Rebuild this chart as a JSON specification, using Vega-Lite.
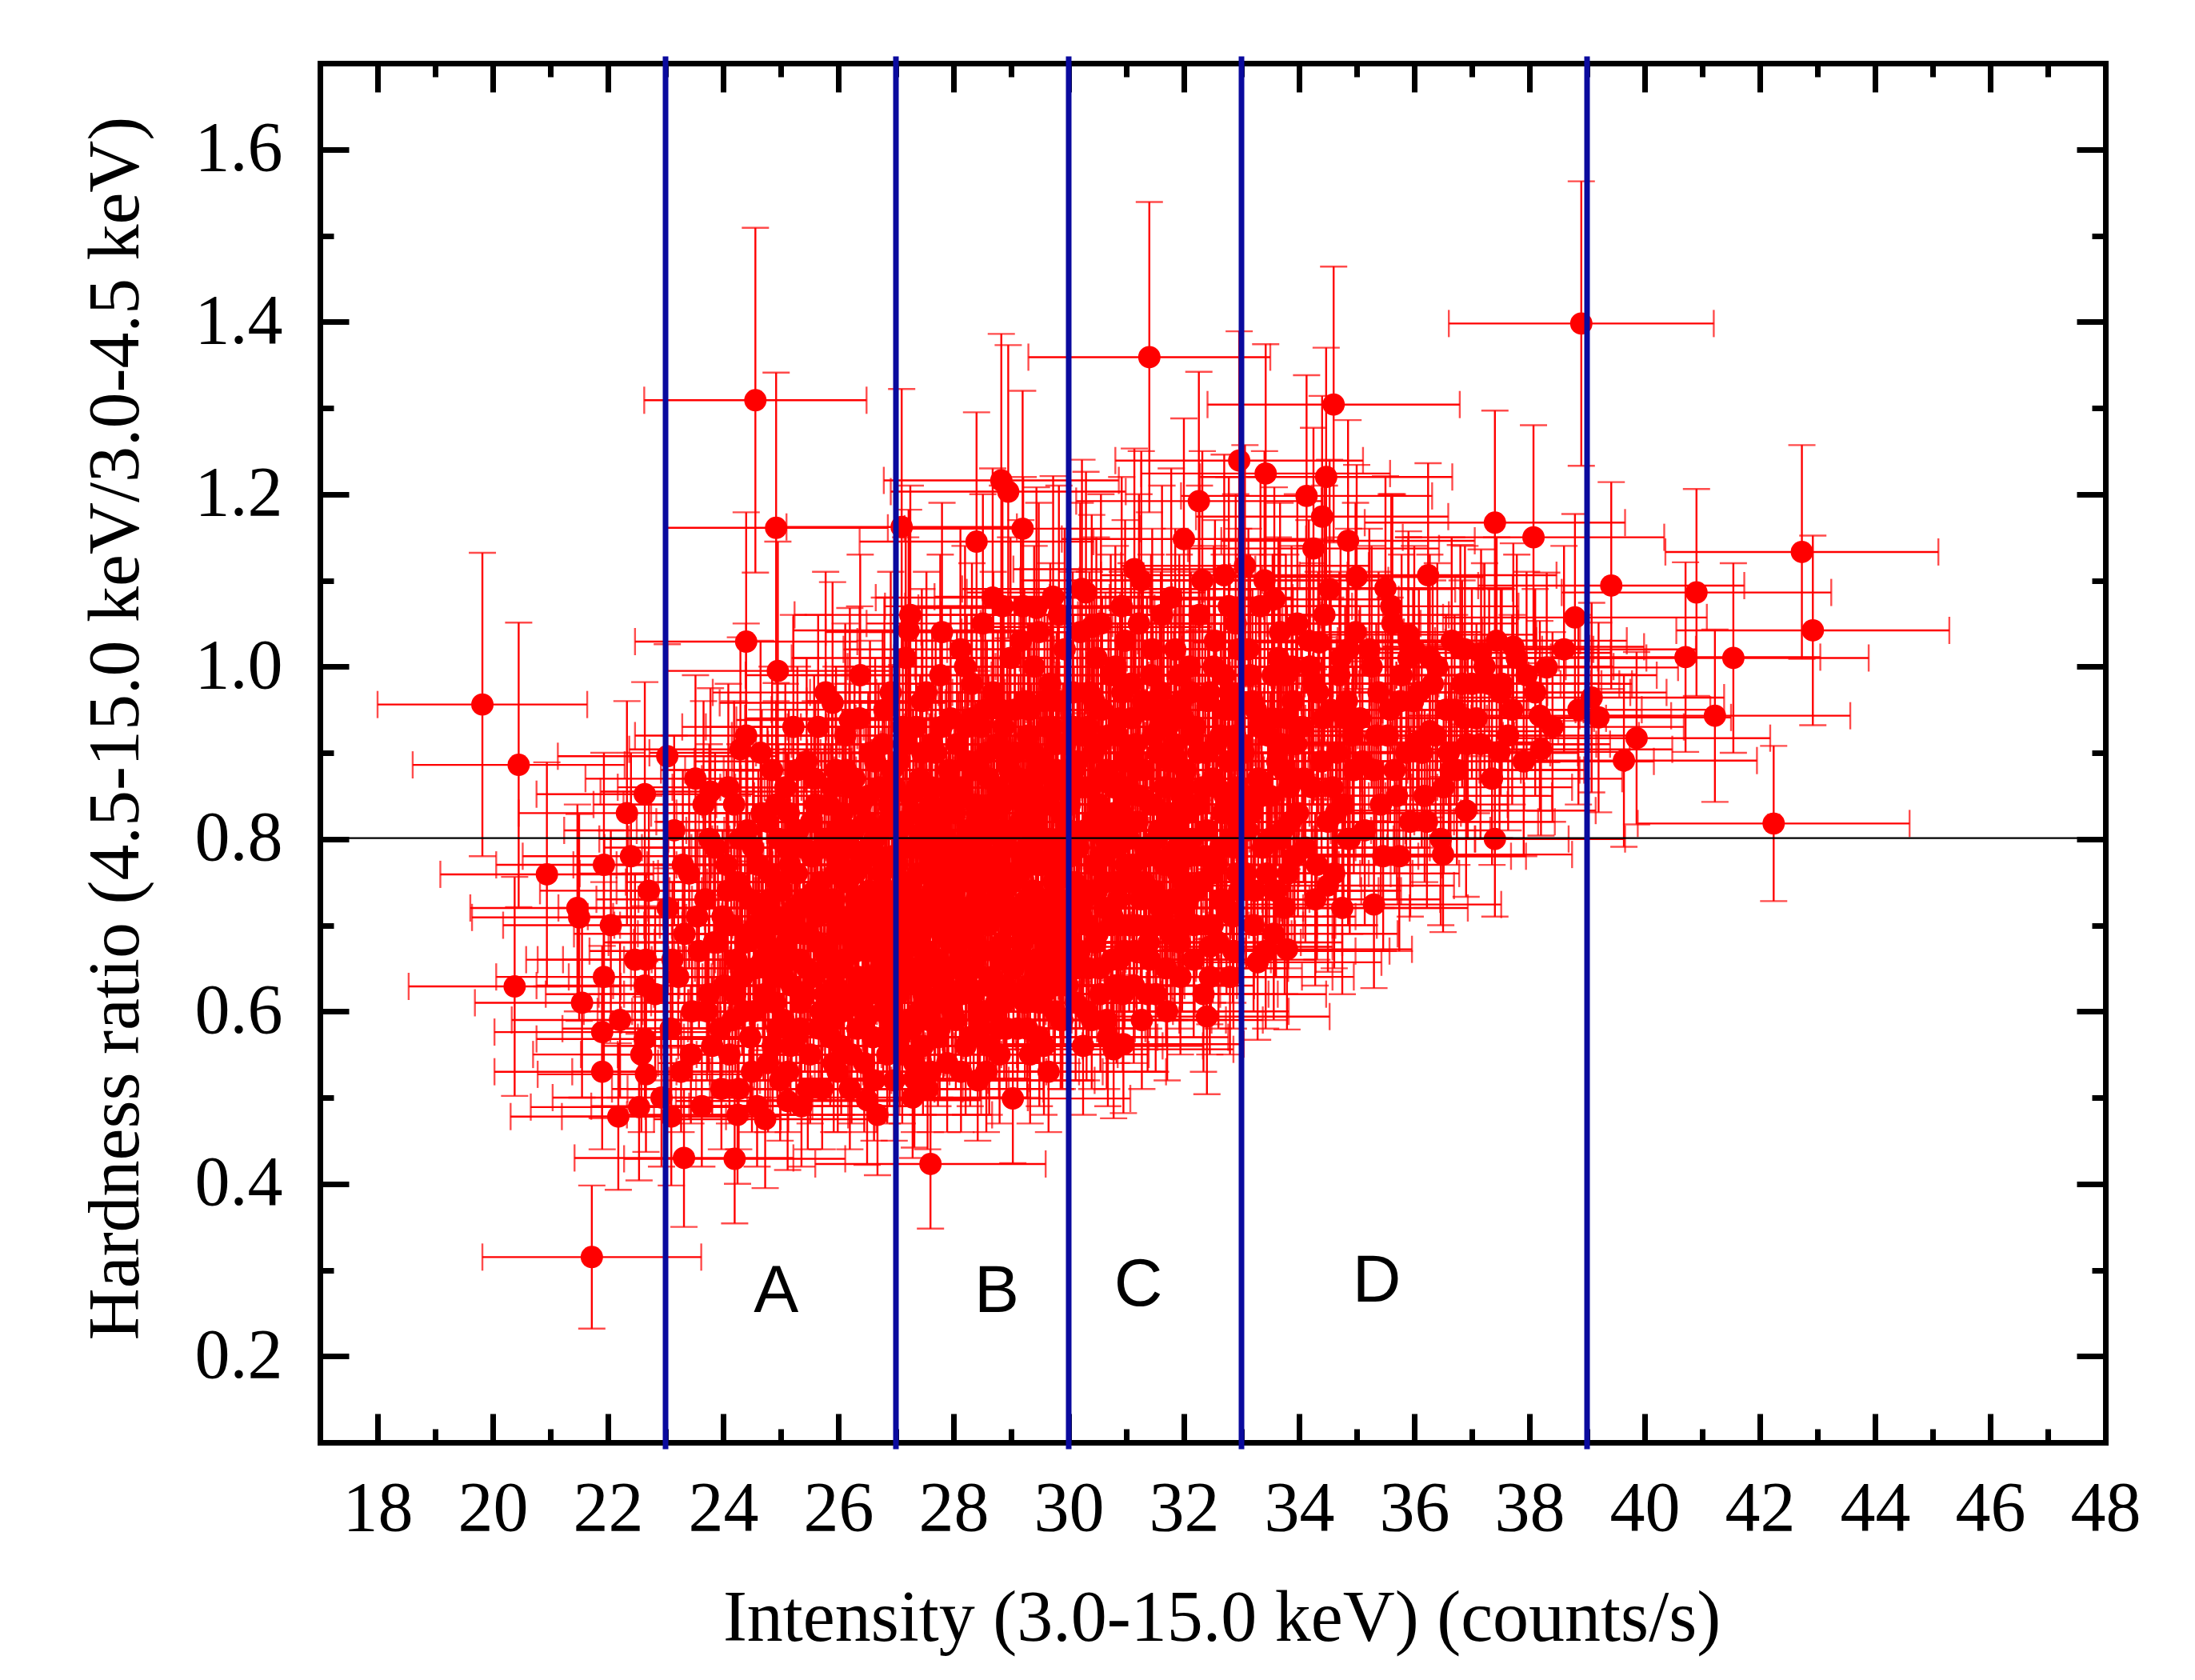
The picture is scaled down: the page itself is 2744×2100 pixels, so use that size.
{
"$schema": "https://vega.github.io/schema/vega-lite/v6.json",
"width": 2232, "height": 1724,
"autosize": {"type": "none"},
"padding": {"left": 400, "top": 79, "right": 112, "bottom": 297},
"background": "white",
"config": {
  "view": {"stroke": null},
  "font": "Liberation Serif",
  "axis": {"grid": false, "labelFont": "Liberation Serif", "titleFont": "Liberation Serif", "labelFontSize": 88, "titleFontSize": 90, "titleFontWeight": "normal", "labelColor": "black", "titleColor": "black", "domainColor": "black", "tickColor": "black", "domainWidth": 7, "tickWidth": 7, "domainCap": "square", "labelFlush": false, "labelOverlap": false}
},
"datasets": {
"pts": [
{"x":22.05,"y":0.70,"ex":1.87,"ey":0.11},{"x":22.21,"y":0.59,"ex":1.88,"ey":0.09},{"x":22.33,"y":0.83,"ex":1.88,"ey":0.13},{"x":22.47,"y":0.66,"ex":1.89,"ey":0.10},{"x":22.58,"y":0.55,"ex":1.88,"ey":0.09},{"x":22.71,"y":0.74,"ex":1.89,"ey":0.11},{"x":22.82,"y":0.62,"ex":1.90,"ey":0.10},{"x":22.93,"y":0.50,"ex":1.89,"ey":0.08},
{"x":23.04,"y":0.72,"ex":1.90,"ey":0.10},{"x":23.09,"y":0.58,"ex":1.88,"ey":0.08},{"x":23.15,"y":0.81,"ex":1.91,"ey":0.11},{"x":23.22,"y":0.64,"ex":1.90,"ey":0.09},{"x":23.27,"y":0.53,"ex":1.89,"ey":0.07},{"x":23.33,"y":0.69,"ex":1.92,"ey":0.10},{"x":23.41,"y":0.76,"ex":1.90,"ey":0.11},{"x":23.46,"y":0.60,"ex":1.88,"ey":0.08},{"x":23.52,"y":0.87,"ex":1.91,"ey":0.12},{"x":23.58,"y":0.67,"ex":1.90,"ey":0.09},{"x":23.63,"y":0.49,"ex":1.92,"ey":0.07},{"x":23.69,"y":0.73,"ex":1.89,"ey":0.10},{"x":23.75,"y":0.62,"ex":1.91,"ey":0.09},{"x":23.81,"y":0.56,"ex":1.90,"ey":0.08},{"x":23.86,"y":0.79,"ex":1.92,"ey":0.11},{"x":23.91,"y":0.68,"ex":1.90,"ey":0.10},{"x":23.95,"y":0.58,"ex":1.91,"ey":0.08},{"x":23.99,"y":0.71,"ex":1.90,"ey":0.10},
{"x":24.02,"y":0.63,"ex":1.93,"ey":0.09},{"x":24.06,"y":0.77,"ex":1.91,"ey":0.11},{"x":24.11,"y":0.55,"ex":1.94,"ey":0.08},{"x":24.14,"y":0.70,"ex":1.93,"ey":0.10},{"x":24.19,"y":0.84,"ex":1.92,"ey":0.12},{"x":24.23,"y":0.66,"ex":1.95,"ey":0.09},{"x":24.27,"y":0.51,"ex":1.93,"ey":0.07},{"x":24.31,"y":0.74,"ex":1.91,"ey":0.10},{"x":24.36,"y":0.60,"ex":1.94,"ey":0.08},{"x":24.40,"y":0.92,"ex":1.93,"ey":0.13},{"x":24.44,"y":0.69,"ex":1.92,"ey":0.10},{"x":24.47,"y":0.57,"ex":1.95,"ey":0.08},{"x":24.52,"y":0.79,"ex":1.93,"ey":0.11},{"x":24.55,"y":0.65,"ex":1.91,"ey":0.09},{"x":24.59,"y":0.49,"ex":1.94,"ey":0.07},{"x":24.63,"y":0.72,"ex":1.93,"ey":0.10},{"x":24.67,"y":0.83,"ex":1.92,"ey":0.12},{"x":24.70,"y":0.61,"ex":1.95,"ey":0.09},{"x":24.74,"y":0.68,"ex":1.93,"ey":0.10},{"x":24.78,"y":0.54,"ex":1.91,"ey":0.08},{"x":24.81,"y":0.76,"ex":1.94,"ey":0.11},{"x":24.85,"y":0.88,"ex":1.93,"ey":0.12},{"x":24.88,"y":0.64,"ex":1.92,"ey":0.09},{"x":24.91,"y":0.71,"ex":1.95,"ey":0.10},{"x":24.94,"y":0.58,"ex":1.93,"ey":0.08},{"x":24.96,"y":0.80,"ex":1.91,"ey":0.11},{"x":24.98,"y":0.67,"ex":1.94,"ey":0.09},{"x":24.99,"y":0.52,"ex":1.93,"ey":0.07},
{"x":25.02,"y":0.74,"ex":1.95,"ey":0.10},{"x":25.05,"y":0.59,"ex":1.93,"ey":0.08},{"x":25.08,"y":0.86,"ex":1.96,"ey":0.12},{"x":25.10,"y":0.68,"ex":1.95,"ey":0.10},{"x":25.13,"y":0.53,"ex":1.94,"ey":0.07},{"x":25.16,"y":0.77,"ex":1.97,"ey":0.11},{"x":25.19,"y":0.63,"ex":1.95,"ey":0.09},{"x":25.22,"y":0.93,"ex":1.93,"ey":0.13},{"x":25.25,"y":0.70,"ex":1.96,"ey":0.10},{"x":25.27,"y":0.57,"ex":1.95,"ey":0.08},{"x":25.30,"y":0.81,"ex":1.94,"ey":0.11},{"x":25.33,"y":0.66,"ex":1.97,"ey":0.09},{"x":25.36,"y":0.49,"ex":1.95,"ey":0.07},{"x":25.39,"y":0.73,"ex":1.93,"ey":0.10},{"x":25.42,"y":0.62,"ex":1.96,"ey":0.09},{"x":25.45,"y":0.89,"ex":1.95,"ey":0.12},{"x":25.48,"y":0.69,"ex":1.94,"ey":0.10},{"x":25.51,"y":0.55,"ex":1.97,"ey":0.08},{"x":25.54,"y":0.78,"ex":1.95,"ey":0.11},{"x":25.57,"y":0.64,"ex":1.93,"ey":0.09},{"x":25.60,"y":0.84,"ex":1.96,"ey":0.12},{"x":25.63,"y":0.71,"ex":1.95,"ey":0.10},{"x":25.66,"y":0.58,"ex":1.94,"ey":0.08},{"x":25.69,"y":0.75,"ex":1.97,"ey":0.10},{"x":25.72,"y":0.51,"ex":1.95,"ey":0.07},{"x":25.75,"y":0.67,"ex":1.93,"ey":0.09},{"x":25.78,"y":0.97,"ex":1.96,"ey":0.14},{"x":25.81,"y":0.72,"ex":1.95,"ey":0.10},{"x":25.84,"y":0.60,"ex":1.94,"ey":0.08},{"x":25.87,"y":0.80,"ex":1.97,"ey":0.11},{"x":25.90,"y":0.65,"ex":1.95,"ey":0.09},{"x":25.92,"y":0.54,"ex":1.93,"ey":0.08},{"x":25.94,"y":0.76,"ex":1.96,"ey":0.11},{"x":25.96,"y":0.88,"ex":1.95,"ey":0.12},{"x":25.98,"y":0.69,"ex":1.94,"ey":0.10},{"x":25.99,"y":0.61,"ex":1.97,"ey":0.09},
{"x":26.02,"y":0.70,"ex":1.98,"ey":0.10},{"x":26.05,"y":0.56,"ex":1.96,"ey":0.08},{"x":26.07,"y":0.83,"ex":1.99,"ey":0.12},{"x":26.10,"y":0.66,"ex":1.98,"ey":0.09},{"x":26.12,"y":0.92,"ex":1.97,"ey":0.13},{"x":26.15,"y":0.75,"ex":2.00,"ey":0.10},{"x":26.17,"y":0.61,"ex":1.98,"ey":0.09},{"x":26.20,"y":0.51,"ex":1.96,"ey":0.07},{"x":26.22,"y":0.79,"ex":1.99,"ey":0.11},{"x":26.25,"y":0.68,"ex":1.98,"ey":0.10},{"x":26.28,"y":0.87,"ex":1.97,"ey":0.12},{"x":26.30,"y":0.73,"ex":2.00,"ey":0.10},{"x":26.33,"y":0.58,"ex":1.98,"ey":0.08},{"x":26.35,"y":0.64,"ex":1.96,"ey":0.09},{"x":26.38,"y":0.99,"ex":1.99,"ey":0.14},{"x":26.40,"y":0.77,"ex":1.98,"ey":0.11},{"x":26.43,"y":0.70,"ex":1.97,"ey":0.10},{"x":26.45,"y":0.54,"ex":2.00,"ey":0.08},{"x":26.48,"y":0.82,"ex":1.98,"ey":0.11},{"x":26.50,"y":0.62,"ex":1.96,"ey":0.09},{"x":26.53,"y":0.74,"ex":1.99,"ey":0.10},{"x":26.55,"y":0.90,"ex":1.98,"ey":0.13},{"x":26.58,"y":0.67,"ex":1.97,"ey":0.09},{"x":26.60,"y":0.57,"ex":2.00,"ey":0.08},{"x":26.63,"y":0.80,"ex":1.98,"ey":0.11},{"x":26.65,"y":0.72,"ex":1.96,"ey":0.10},{"x":26.68,"y":0.48,"ex":1.99,"ey":0.07},{"x":26.70,"y":0.86,"ex":1.98,"ey":0.12},{"x":26.73,"y":0.65,"ex":1.97,"ey":0.09},{"x":26.75,"y":0.76,"ex":2.00,"ey":0.11},{"x":26.78,"y":0.60,"ex":1.98,"ey":0.08},{"x":26.80,"y":0.95,"ex":1.96,"ey":0.13},{"x":26.83,"y":0.71,"ex":1.99,"ey":0.10},{"x":26.85,"y":0.55,"ex":1.98,"ey":0.08},{"x":26.88,"y":0.84,"ex":1.97,"ey":0.12},{"x":26.90,"y":0.69,"ex":2.00,"ey":0.10},{"x":26.92,"y":0.63,"ex":1.98,"ey":0.09},{"x":26.95,"y":0.78,"ex":1.96,"ey":0.11},{"x":26.97,"y":0.52,"ex":1.99,"ey":0.07},{"x":26.99,"y":0.74,"ex":1.98,"ey":0.10},
{"x":27.02,"y":0.77,"ex":2.00,"ey":0.11},{"x":27.04,"y":0.62,"ex":1.98,"ey":0.09},{"x":27.06,"y":0.89,"ex":2.01,"ey":0.12},{"x":27.08,"y":0.70,"ex":2.00,"ey":0.10},{"x":27.11,"y":0.55,"ex":1.99,"ey":0.08},{"x":27.13,"y":0.82,"ex":2.02,"ey":0.11},{"x":27.15,"y":0.67,"ex":2.00,"ey":0.09},{"x":27.17,"y":1.01,"ex":1.98,"ey":0.14},{"x":27.20,"y":0.74,"ex":2.01,"ey":0.10},{"x":27.22,"y":0.59,"ex":2.00,"ey":0.08},{"x":27.24,"y":0.85,"ex":1.99,"ey":0.12},{"x":27.26,"y":0.71,"ex":2.02,"ey":0.10},{"x":27.29,"y":0.50,"ex":2.00,"ey":0.07},{"x":27.31,"y":0.79,"ex":1.98,"ey":0.11},{"x":27.33,"y":0.65,"ex":2.01,"ey":0.09},{"x":27.35,"y":0.93,"ex":2.00,"ey":0.13},{"x":27.38,"y":0.76,"ex":1.99,"ey":0.11},{"x":27.40,"y":0.60,"ex":2.02,"ey":0.08},{"x":27.42,"y":0.87,"ex":2.00,"ey":0.12},{"x":27.44,"y":0.69,"ex":1.98,"ey":0.10},{"x":27.47,"y":0.56,"ex":2.01,"ey":0.08},{"x":27.49,"y":0.81,"ex":2.00,"ey":0.11},{"x":27.51,"y":0.73,"ex":1.99,"ey":0.10},{"x":27.53,"y":0.97,"ex":2.02,"ey":0.14},{"x":27.56,"y":0.64,"ex":2.00,"ey":0.09},{"x":27.58,"y":0.78,"ex":1.98,"ey":0.11},{"x":27.60,"y":0.53,"ex":2.01,"ey":0.07},{"x":27.62,"y":0.84,"ex":2.00,"ey":0.12},{"x":27.65,"y":0.71,"ex":1.99,"ey":0.10},{"x":27.67,"y":0.61,"ex":2.02,"ey":0.09},{"x":27.69,"y":0.90,"ex":2.00,"ey":0.13},{"x":27.71,"y":0.75,"ex":1.98,"ey":0.10},{"x":27.74,"y":0.66,"ex":2.01,"ey":0.09},{"x":27.76,"y":0.58,"ex":2.00,"ey":0.08},{"x":27.78,"y":0.83,"ex":1.99,"ey":0.12},{"x":27.80,"y":1.04,"ex":2.02,"ey":0.15},{"x":27.83,"y":0.72,"ex":2.00,"ey":0.10},{"x":27.85,"y":0.63,"ex":1.98,"ey":0.09},{"x":27.87,"y":0.80,"ex":2.01,"ey":0.11},{"x":27.89,"y":0.54,"ex":2.00,"ey":0.08},{"x":27.92,"y":0.88,"ex":1.99,"ey":0.12},{"x":27.94,"y":0.68,"ex":2.02,"ey":0.10},{"x":27.96,"y":0.76,"ex":2.00,"ey":0.11},{"x":27.98,"y":0.60,"ex":1.98,"ey":0.08},
{"x":28.02,"y":0.74,"ex":2.03,"ey":0.10},{"x":28.04,"y":0.59,"ex":2.01,"ey":0.08},{"x":28.06,"y":0.91,"ex":2.04,"ey":0.13},{"x":28.08,"y":0.79,"ex":2.03,"ey":0.11},{"x":28.11,"y":0.66,"ex":2.02,"ey":0.09},{"x":28.13,"y":0.53,"ex":2.05,"ey":0.07},{"x":28.15,"y":0.86,"ex":2.03,"ey":0.12},{"x":28.17,"y":0.72,"ex":2.01,"ey":0.10},{"x":28.20,"y":1.00,"ex":2.04,"ey":0.14},{"x":28.22,"y":0.63,"ex":2.03,"ey":0.09},{"x":28.24,"y":0.81,"ex":2.02,"ey":0.11},{"x":28.26,"y":0.69,"ex":2.05,"ey":0.10},{"x":28.29,"y":0.57,"ex":2.03,"ey":0.08},{"x":28.31,"y":0.94,"ex":2.01,"ey":0.13},{"x":28.33,"y":0.77,"ex":2.04,"ey":0.11},{"x":28.35,"y":0.62,"ex":2.03,"ey":0.09},{"x":28.38,"y":0.84,"ex":2.02,"ey":0.12},{"x":28.40,"y":0.73,"ex":2.05,"ey":0.10},{"x":28.42,"y":0.52,"ex":2.03,"ey":0.07},{"x":28.44,"y":0.88,"ex":2.01,"ey":0.12},{"x":28.47,"y":0.67,"ex":2.04,"ey":0.09},{"x":28.49,"y":0.80,"ex":2.03,"ey":0.11},{"x":28.51,"y":1.05,"ex":2.02,"ey":0.15},{"x":28.53,"y":0.60,"ex":2.05,"ey":0.08},{"x":28.56,"y":0.75,"ex":2.03,"ey":0.10},{"x":28.58,"y":0.90,"ex":2.01,"ey":0.13},{"x":28.60,"y":0.70,"ex":2.04,"ey":0.10},{"x":28.62,"y":0.56,"ex":2.03,"ey":0.08},{"x":28.65,"y":0.83,"ex":2.02,"ey":0.12},{"x":28.67,"y":0.64,"ex":2.05,"ey":0.09},{"x":28.69,"y":0.97,"ex":2.03,"ey":0.14},{"x":28.71,"y":0.78,"ex":2.01,"ey":0.11},{"x":28.74,"y":0.61,"ex":2.04,"ey":0.09},{"x":28.76,"y":0.86,"ex":2.03,"ey":0.12},{"x":28.78,"y":0.71,"ex":2.02,"ey":0.10},{"x":28.80,"y":0.55,"ex":2.05,"ey":0.08},{"x":28.83,"y":0.80,"ex":2.03,"ey":0.11},{"x":28.85,"y":0.68,"ex":2.01,"ey":0.10},{"x":28.87,"y":0.93,"ex":2.04,"ey":0.13},{"x":28.89,"y":0.74,"ex":2.03,"ey":0.10},{"x":28.92,"y":0.58,"ex":2.02,"ey":0.08},{"x":28.94,"y":0.85,"ex":2.05,"ey":0.12},{"x":28.96,"y":0.66,"ex":2.03,"ey":0.09},{"x":28.98,"y":0.76,"ex":2.01,"ey":0.11},
{"x":29.02,"y":0.81,"ex":2.05,"ey":0.11},{"x":29.04,"y":0.65,"ex":2.03,"ey":0.09},{"x":29.06,"y":0.95,"ex":2.06,"ey":0.13},{"x":29.08,"y":0.72,"ex":2.05,"ey":0.10},{"x":29.11,"y":0.58,"ex":2.04,"ey":0.08},{"x":29.13,"y":0.87,"ex":2.07,"ey":0.12},{"x":29.15,"y":0.76,"ex":2.05,"ey":0.11},{"x":29.17,"y":1.03,"ex":2.03,"ey":0.14},{"x":29.20,"y":0.68,"ex":2.06,"ey":0.10},{"x":29.22,"y":0.84,"ex":2.05,"ey":0.12},{"x":29.24,"y":0.61,"ex":2.04,"ey":0.09},{"x":29.26,"y":0.79,"ex":2.07,"ey":0.11},{"x":29.29,"y":0.92,"ex":2.05,"ey":0.13},{"x":29.31,"y":0.70,"ex":2.03,"ey":0.10},{"x":29.33,"y":0.55,"ex":2.06,"ey":0.08},{"x":29.35,"y":0.86,"ex":2.05,"ey":0.12},{"x":29.38,"y":0.74,"ex":2.04,"ey":0.10},{"x":29.40,"y":1.00,"ex":2.07,"ey":0.14},{"x":29.42,"y":0.64,"ex":2.05,"ey":0.09},{"x":29.44,"y":0.82,"ex":2.03,"ey":0.11},{"x":29.47,"y":0.69,"ex":2.06,"ey":0.10},{"x":29.49,"y":0.57,"ex":2.05,"ey":0.08},{"x":29.51,"y":0.89,"ex":2.04,"ey":0.12},{"x":29.53,"y":0.77,"ex":2.07,"ey":0.11},{"x":29.56,"y":0.62,"ex":2.05,"ey":0.09},{"x":29.58,"y":0.96,"ex":2.03,"ey":0.13},{"x":29.60,"y":0.80,"ex":2.06,"ey":0.11},{"x":29.62,"y":0.71,"ex":2.05,"ey":0.10},{"x":29.65,"y":0.53,"ex":2.04,"ey":0.07},{"x":29.67,"y":0.85,"ex":2.07,"ey":0.12},{"x":29.69,"y":0.67,"ex":2.05,"ey":0.09},{"x":29.71,"y":0.93,"ex":2.03,"ey":0.13},{"x":29.74,"y":0.75,"ex":2.06,"ey":0.10},{"x":29.76,"y":0.60,"ex":2.05,"ey":0.08},{"x":29.78,"y":0.88,"ex":2.04,"ey":0.12},{"x":29.80,"y":0.73,"ex":2.07,"ey":0.10},{"x":29.83,"y":1.06,"ex":2.05,"ey":0.15},{"x":29.85,"y":0.66,"ex":2.03,"ey":0.09},{"x":29.87,"y":0.83,"ex":2.06,"ey":0.12},{"x":29.89,"y":0.59,"ex":2.05,"ey":0.08},{"x":29.92,"y":0.78,"ex":2.04,"ey":0.11},{"x":29.94,"y":0.91,"ex":2.07,"ey":0.13},{"x":29.96,"y":0.70,"ex":2.05,"ey":0.10},{"x":29.98,"y":0.63,"ex":2.03,"ey":0.09},
{"x":30.02,"y":0.84,"ex":2.08,"ey":0.12},{"x":30.05,"y":0.68,"ex":2.06,"ey":0.10},{"x":30.07,"y":0.97,"ex":2.09,"ey":0.14},{"x":30.10,"y":0.75,"ex":2.08,"ey":0.10},{"x":30.12,"y":0.61,"ex":2.07,"ey":0.09},{"x":30.15,"y":0.89,"ex":2.10,"ey":0.12},{"x":30.17,"y":0.79,"ex":2.08,"ey":0.11},{"x":30.20,"y":1.04,"ex":2.06,"ey":0.15},{"x":30.22,"y":0.71,"ex":2.09,"ey":0.10},{"x":30.25,"y":0.56,"ex":2.08,"ey":0.08},{"x":30.28,"y":0.86,"ex":2.07,"ey":0.12},{"x":30.30,"y":0.74,"ex":2.10,"ey":0.10},{"x":30.33,"y":0.93,"ex":2.08,"ey":0.13},{"x":30.35,"y":0.65,"ex":2.06,"ey":0.09},{"x":30.38,"y":0.81,"ex":2.09,"ey":0.11},{"x":30.40,"y":0.59,"ex":2.08,"ey":0.08},{"x":30.43,"y":0.90,"ex":2.07,"ey":0.13},{"x":30.45,"y":0.77,"ex":2.10,"ey":0.11},{"x":30.48,"y":1.01,"ex":2.08,"ey":0.14},{"x":30.50,"y":0.69,"ex":2.06,"ey":0.10},{"x":30.53,"y":0.84,"ex":2.09,"ey":0.12},{"x":30.55,"y":0.62,"ex":2.08,"ey":0.09},{"x":30.58,"y":0.95,"ex":2.07,"ey":0.13},{"x":30.60,"y":0.78,"ex":2.10,"ey":0.11},{"x":30.63,"y":0.72,"ex":2.08,"ey":0.10},{"x":30.65,"y":0.88,"ex":2.06,"ey":0.12},{"x":30.68,"y":0.57,"ex":2.09,"ey":0.08},{"x":30.70,"y":0.82,"ex":2.08,"ey":0.11},{"x":30.73,"y":0.99,"ex":2.07,"ey":0.14},{"x":30.75,"y":0.66,"ex":2.10,"ey":0.09},{"x":30.78,"y":0.86,"ex":2.08,"ey":0.12},{"x":30.80,"y":0.75,"ex":2.06,"ey":0.10},{"x":30.83,"y":0.63,"ex":2.09,"ey":0.09},{"x":30.85,"y":0.92,"ex":2.08,"ey":0.13},{"x":30.88,"y":0.80,"ex":2.07,"ey":0.11},{"x":30.90,"y":0.70,"ex":2.10,"ey":0.10},{"x":30.92,"y":1.07,"ex":2.08,"ey":0.15},{"x":30.95,"y":0.85,"ex":2.06,"ey":0.12},{"x":30.97,"y":0.67,"ex":2.09,"ey":0.09},{"x":30.99,"y":0.77,"ex":2.08,"ey":0.11},
{"x":31.03,"y":0.86,"ex":2.10,"ey":0.12},{"x":31.05,"y":0.70,"ex":2.08,"ey":0.10},{"x":31.08,"y":0.98,"ex":2.11,"ey":0.14},{"x":31.11,"y":0.77,"ex":2.10,"ey":0.11},{"x":31.13,"y":0.63,"ex":2.09,"ey":0.09},{"x":31.16,"y":0.91,"ex":2.12,"ey":0.13},{"x":31.19,"y":0.82,"ex":2.10,"ey":0.11},{"x":31.22,"y":1.05,"ex":2.08,"ey":0.15},{"x":31.25,"y":0.73,"ex":2.11,"ey":0.10},{"x":31.27,"y":0.59,"ex":2.10,"ey":0.08},{"x":31.30,"y":0.88,"ex":2.09,"ey":0.12},{"x":31.33,"y":0.79,"ex":2.12,"ey":0.11},{"x":31.36,"y":0.95,"ex":2.10,"ey":0.13},{"x":31.39,"y":0.68,"ex":2.08,"ey":0.10},{"x":31.42,"y":0.84,"ex":2.11,"ey":0.12},{"x":31.45,"y":1.02,"ex":2.10,"ey":0.14},{"x":31.48,"y":0.74,"ex":2.09,"ey":0.10},{"x":31.51,"y":0.62,"ex":2.12,"ey":0.09},{"x":31.54,"y":0.90,"ex":2.10,"ey":0.13},{"x":31.57,"y":0.81,"ex":2.08,"ey":0.11},{"x":31.60,"y":0.97,"ex":2.11,"ey":0.14},{"x":31.63,"y":0.71,"ex":2.10,"ey":0.10},{"x":31.66,"y":0.86,"ex":2.09,"ey":0.12},{"x":31.69,"y":0.65,"ex":2.12,"ey":0.09},{"x":31.72,"y":0.93,"ex":2.10,"ey":0.13},{"x":31.75,"y":0.78,"ex":2.08,"ey":0.11},{"x":31.78,"y":1.08,"ex":2.11,"ey":0.15},{"x":31.81,"y":0.83,"ex":2.10,"ey":0.12},{"x":31.84,"y":0.69,"ex":2.09,"ey":0.10},{"x":31.87,"y":0.89,"ex":2.12,"ey":0.12},{"x":31.90,"y":0.76,"ex":2.10,"ey":0.11},{"x":31.92,"y":0.99,"ex":2.08,"ey":0.14},{"x":31.94,"y":0.64,"ex":2.11,"ey":0.09},{"x":31.96,"y":0.85,"ex":2.10,"ey":0.12},{"x":31.98,"y":0.72,"ex":2.09,"ey":0.10},{"x":31.99,"y":0.94,"ex":2.12,"ey":0.13},
{"x":32.03,"y":0.88,"ex":2.13,"ey":0.12},{"x":32.07,"y":0.73,"ex":2.11,"ey":0.10},{"x":32.10,"y":1.00,"ex":2.14,"ey":0.14},{"x":32.14,"y":0.80,"ex":2.13,"ey":0.11},{"x":32.17,"y":0.66,"ex":2.12,"ey":0.09},{"x":32.20,"y":0.93,"ex":2.15,"ey":0.13},{"x":32.24,"y":0.84,"ex":2.13,"ey":0.12},{"x":32.27,"y":1.06,"ex":2.11,"ey":0.15},{"x":32.30,"y":0.75,"ex":2.14,"ey":0.10},{"x":32.34,"y":0.62,"ex":2.13,"ey":0.09},{"x":32.37,"y":0.90,"ex":2.12,"ey":0.13},{"x":32.40,"y":0.81,"ex":2.15,"ey":0.11},{"x":32.44,"y":0.97,"ex":2.13,"ey":0.14},{"x":32.47,"y":0.70,"ex":2.11,"ey":0.10},{"x":32.50,"y":0.87,"ex":2.14,"ey":0.12},{"x":32.54,"y":1.03,"ex":2.13,"ey":0.14},{"x":32.57,"y":0.77,"ex":2.12,"ey":0.11},{"x":32.60,"y":0.68,"ex":2.15,"ey":0.10},{"x":32.64,"y":0.92,"ex":2.13,"ey":0.13},{"x":32.67,"y":0.83,"ex":2.11,"ey":0.12},{"x":32.70,"y":0.99,"ex":2.14,"ey":0.14},{"x":32.74,"y":0.72,"ex":2.13,"ey":0.10},{"x":32.77,"y":0.89,"ex":2.12,"ey":0.12},{"x":32.80,"y":0.64,"ex":2.15,"ey":0.09},{"x":32.84,"y":0.95,"ex":2.13,"ey":0.13},{"x":32.87,"y":0.79,"ex":2.11,"ey":0.11},{"x":32.90,"y":1.05,"ex":2.14,"ey":0.15},{"x":32.93,"y":0.86,"ex":2.13,"ey":0.12},{"x":32.96,"y":0.74,"ex":2.12,"ey":0.10},{"x":32.99,"y":0.91,"ex":2.15,"ey":0.13},
{"x":33.04,"y":0.90,"ex":2.15,"ey":0.13},{"x":33.08,"y":0.76,"ex":2.13,"ey":0.11},{"x":33.12,"y":1.02,"ex":2.16,"ey":0.14},{"x":33.17,"y":0.83,"ex":2.15,"ey":0.12},{"x":33.21,"y":0.70,"ex":2.14,"ey":0.10},{"x":33.25,"y":0.95,"ex":2.17,"ey":0.13},{"x":33.29,"y":0.87,"ex":2.15,"ey":0.12},{"x":33.33,"y":1.07,"ex":2.13,"ey":0.15},{"x":33.37,"y":0.79,"ex":2.16,"ey":0.11},{"x":33.42,"y":0.67,"ex":2.15,"ey":0.09},{"x":33.46,"y":0.92,"ex":2.14,"ey":0.13},{"x":33.50,"y":0.85,"ex":2.17,"ey":0.12},{"x":33.54,"y":0.99,"ex":2.15,"ey":0.14},{"x":33.58,"y":0.74,"ex":2.13,"ey":0.10},{"x":33.62,"y":0.89,"ex":2.16,"ey":0.12},{"x":33.67,"y":1.04,"ex":2.15,"ey":0.15},{"x":33.71,"y":0.81,"ex":2.14,"ey":0.11},{"x":33.75,"y":0.72,"ex":2.17,"ey":0.10},{"x":33.79,"y":0.94,"ex":2.15,"ey":0.13},{"x":33.83,"y":0.86,"ex":2.13,"ey":0.12},{"x":33.87,"y":1.00,"ex":2.16,"ey":0.14},{"x":33.92,"y":0.78,"ex":2.15,"ey":0.11},{"x":33.95,"y":0.91,"ex":2.14,"ey":0.13},{"x":33.98,"y":0.83,"ex":2.17,"ey":0.12},
{"x":34.05,"y":0.93,"ex":2.18,"ey":0.13},{"x":34.11,"y":0.79,"ex":2.16,"ey":0.11},{"x":34.17,"y":1.03,"ex":2.19,"ey":0.14},{"x":34.22,"y":0.86,"ex":2.18,"ey":0.12},{"x":34.28,"y":0.73,"ex":2.17,"ey":0.10},{"x":34.33,"y":0.97,"ex":2.20,"ey":0.14},{"x":34.39,"y":0.89,"ex":2.18,"ey":0.12},{"x":34.44,"y":1.06,"ex":2.16,"ey":0.15},{"x":34.50,"y":0.82,"ex":2.19,"ey":0.11},{"x":34.55,"y":0.95,"ex":2.18,"ey":0.13},{"x":34.61,"y":0.76,"ex":2.17,"ey":0.11},{"x":34.66,"y":0.90,"ex":2.20,"ey":0.13},{"x":34.72,"y":1.01,"ex":2.18,"ey":0.14},{"x":34.77,"y":0.84,"ex":2.16,"ey":0.12},{"x":34.83,"y":0.96,"ex":2.19,"ey":0.13},{"x":34.88,"y":0.80,"ex":2.18,"ey":0.11},{"x":34.93,"y":0.92,"ex":2.17,"ey":0.13},{"x":34.98,"y":1.04,"ex":2.20,"ey":0.15},
{"x":35.06,"y":0.94,"ex":2.20,"ey":0.13},{"x":35.14,"y":0.81,"ex":2.18,"ey":0.11},{"x":35.22,"y":1.02,"ex":2.21,"ey":0.14},{"x":35.30,"y":0.88,"ex":2.20,"ey":0.12},{"x":35.38,"y":0.97,"ex":2.19,"ey":0.14},{"x":35.46,"y":0.78,"ex":2.22,"ey":0.11},{"x":35.54,"y":0.92,"ex":2.20,"ey":0.13},{"x":35.62,"y":1.05,"ex":2.18,"ey":0.15},{"x":35.70,"y":0.85,"ex":2.21,"ey":0.12},{"x":35.78,"y":0.99,"ex":2.20,"ey":0.14},{"x":35.86,"y":0.90,"ex":2.19,"ey":0.13},{"x":35.93,"y":0.82,"ex":2.22,"ey":0.11},{"x":35.98,"y":0.96,"ex":2.20,"ey":0.13},
{"x":36.08,"y":0.97,"ex":2.23,"ey":0.12},{"x":36.18,"y":0.85,"ex":2.21,"ey":0.10},{"x":36.27,"y":1.01,"ex":2.24,"ey":0.12},{"x":36.37,"y":0.92,"ex":2.23,"ey":0.11},{"x":36.46,"y":0.80,"ex":2.22,"ey":0.10},{"x":36.55,"y":0.95,"ex":2.25,"ey":0.11},{"x":36.65,"y":1.03,"ex":2.23,"ey":0.12},{"x":36.74,"y":0.88,"ex":2.21,"ey":0.11},{"x":36.83,"y":0.98,"ex":2.24,"ey":0.12},{"x":36.93,"y":0.91,"ex":2.23,"ey":0.11},
{"x":37.08,"y":0.94,"ex":2.25,"ey":0.11},{"x":37.22,"y":1.00,"ex":2.24,"ey":0.12},{"x":37.35,"y":0.87,"ex":2.26,"ey":0.10},{"x":37.50,"y":0.97,"ex":2.25,"ey":0.12},{"x":37.63,"y":0.92,"ex":2.27,"ey":0.11},{"x":37.78,"y":1.01,"ex":2.25,"ey":0.12},{"x":37.90,"y":0.89,"ex":2.26,"ey":0.11},
{"x":38.10,"y":0.97,"ex":2.28,"ey":0.12},{"x":38.40,"y":0.93,"ex":2.28,"ey":0.11},{"x":38.60,"y":1.02,"ex":2.29,"ey":0.12},{"x":38.85,"y":0.95,"ex":2.29,"ey":0.11},
{"x":23.12,"y":0.66,"ex":1.90,"ey":0.09},{"x":23.30,"y":0.77,"ex":1.90,"ey":0.11},{"x":23.44,"y":0.55,"ex":1.91,"ey":0.08},{"x":23.55,"y":0.71,"ex":1.90,"ey":0.10},{"x":23.66,"y":0.84,"ex":1.91,"ey":0.12},{"x":23.72,"y":0.60,"ex":1.90,"ey":0.08},{"x":23.84,"y":0.68,"ex":1.91,"ey":0.10},{"x":23.97,"y":0.51,"ex":1.90,"ey":0.07},
{"x":24.04,"y":0.70,"ex":1.93,"ey":0.10},{"x":24.09,"y":0.86,"ex":1.92,"ey":0.12},{"x":24.16,"y":0.59,"ex":1.93,"ey":0.08},{"x":24.25,"y":0.75,"ex":1.94,"ey":0.10},{"x":24.33,"y":0.64,"ex":1.93,"ey":0.09},{"x":24.42,"y":0.81,"ex":1.92,"ey":0.11},{"x":24.50,"y":0.53,"ex":1.93,"ey":0.07},{"x":24.57,"y":0.70,"ex":1.94,"ey":0.10},{"x":24.65,"y":0.90,"ex":1.93,"ey":0.13},{"x":24.72,"y":0.62,"ex":1.92,"ey":0.09},{"x":24.80,"y":0.73,"ex":1.93,"ey":0.10},{"x":24.86,"y":0.56,"ex":1.94,"ey":0.08},{"x":24.92,"y":0.84,"ex":1.93,"ey":0.12},{"x":24.97,"y":0.66,"ex":1.92,"ey":0.09},
{"x":25.04,"y":0.64,"ex":1.95,"ey":0.09},{"x":25.11,"y":0.79,"ex":1.96,"ey":0.11},{"x":25.17,"y":0.56,"ex":1.95,"ey":0.08},{"x":25.24,"y":0.72,"ex":1.94,"ey":0.10},{"x":25.29,"y":0.88,"ex":1.95,"ey":0.12},{"x":25.35,"y":0.61,"ex":1.96,"ey":0.09},{"x":25.41,"y":0.69,"ex":1.95,"ey":0.10},{"x":25.47,"y":0.51,"ex":1.94,"ey":0.07},{"x":25.53,"y":0.82,"ex":1.95,"ey":0.11},{"x":25.59,"y":0.74,"ex":1.96,"ey":0.10},{"x":25.65,"y":0.93,"ex":1.95,"ey":0.13},{"x":25.70,"y":0.60,"ex":1.94,"ey":0.08},{"x":25.76,"y":0.80,"ex":1.95,"ey":0.11},{"x":25.82,"y":0.66,"ex":1.96,"ey":0.09},{"x":25.86,"y":0.57,"ex":1.95,"ey":0.08},{"x":25.89,"y":0.86,"ex":1.94,"ey":0.12},{"x":25.93,"y":0.71,"ex":1.95,"ey":0.10},{"x":25.95,"y":0.63,"ex":1.96,"ey":0.09},{"x":25.97,"y":0.78,"ex":1.95,"ey":0.11},{"x":25.99,"y":0.53,"ex":1.94,"ey":0.07},
{"x":26.03,"y":0.77,"ex":1.98,"ey":0.11},{"x":26.08,"y":0.60,"ex":1.97,"ey":0.08},{"x":26.13,"y":0.88,"ex":1.98,"ey":0.12},{"x":26.18,"y":0.71,"ex":1.99,"ey":0.10},{"x":26.23,"y":0.55,"ex":1.98,"ey":0.08},{"x":26.27,"y":0.81,"ex":1.97,"ey":0.11},{"x":26.32,"y":0.67,"ex":1.98,"ey":0.09},{"x":26.37,"y":0.94,"ex":1.99,"ey":0.13},{"x":26.42,"y":0.73,"ex":1.98,"ey":0.10},{"x":26.47,"y":0.59,"ex":1.97,"ey":0.08},{"x":26.52,"y":0.85,"ex":1.98,"ey":0.12},{"x":26.57,"y":0.69,"ex":1.99,"ey":0.10},{"x":26.62,"y":0.52,"ex":1.98,"ey":0.07},{"x":26.67,"y":0.78,"ex":1.97,"ey":0.11},{"x":26.72,"y":0.63,"ex":1.98,"ey":0.09},{"x":26.77,"y":0.91,"ex":1.99,"ey":0.13},{"x":26.81,"y":0.74,"ex":1.98,"ey":0.10},{"x":26.84,"y":0.61,"ex":1.97,"ey":0.09},{"x":26.87,"y":0.82,"ex":1.98,"ey":0.11},{"x":26.89,"y":0.57,"ex":1.99,"ey":0.08},{"x":26.91,"y":0.97,"ex":1.98,"ey":0.14},{"x":26.94,"y":0.72,"ex":1.97,"ey":0.10},{"x":26.96,"y":0.66,"ex":1.98,"ey":0.09},{"x":26.98,"y":0.86,"ex":1.99,"ey":0.12},
{"x":27.03,"y":0.72,"ex":2.00,"ey":0.10},{"x":27.07,"y":0.57,"ex":2.01,"ey":0.08},{"x":27.12,"y":0.93,"ex":2.00,"ey":0.13},{"x":27.16,"y":0.79,"ex":1.99,"ey":0.11},{"x":27.21,"y":0.64,"ex":2.00,"ey":0.09},{"x":27.25,"y":1.06,"ex":2.01,"ey":0.15},{"x":27.28,"y":0.75,"ex":2.00,"ey":0.10},{"x":27.32,"y":0.54,"ex":1.99,"ey":0.08},{"x":27.36,"y":0.86,"ex":2.00,"ey":0.12},{"x":27.41,"y":0.70,"ex":2.01,"ey":0.10},{"x":27.45,"y":0.96,"ex":2.00,"ey":0.13},{"x":27.48,"y":0.62,"ex":1.99,"ey":0.09},{"x":27.52,"y":0.82,"ex":2.00,"ey":0.11},{"x":27.55,"y":0.51,"ex":2.01,"ey":0.07},{"x":27.59,"y":0.73,"ex":2.00,"ey":0.10},{"x":27.63,"y":0.91,"ex":1.99,"ey":0.13},{"x":27.66,"y":0.66,"ex":2.00,"ey":0.09},{"x":27.70,"y":0.80,"ex":2.01,"ey":0.11},{"x":27.73,"y":0.57,"ex":2.00,"ey":0.08},{"x":27.77,"y":0.99,"ex":1.99,"ey":0.14},{"x":27.81,"y":0.76,"ex":2.00,"ey":0.11},{"x":27.84,"y":0.69,"ex":2.01,"ey":0.10},{"x":27.88,"y":0.86,"ex":2.00,"ey":0.12},{"x":27.91,"y":0.62,"ex":1.99,"ey":0.09},{"x":27.95,"y":0.94,"ex":2.00,"ey":0.13},{"x":27.99,"y":0.79,"ex":2.01,"ey":0.11},
{"x":28.03,"y":0.83,"ex":2.03,"ey":0.12},{"x":28.07,"y":0.68,"ex":2.02,"ey":0.10},{"x":28.12,"y":1.02,"ex":2.03,"ey":0.14},{"x":28.16,"y":0.76,"ex":2.04,"ey":0.11},{"x":28.21,"y":0.56,"ex":2.03,"ey":0.08},{"x":28.25,"y":0.89,"ex":2.02,"ey":0.12},{"x":28.28,"y":0.71,"ex":2.03,"ey":0.10},{"x":28.32,"y":0.98,"ex":2.04,"ey":0.14},{"x":28.36,"y":0.65,"ex":2.03,"ey":0.09},{"x":28.41,"y":0.82,"ex":2.02,"ey":0.11},{"x":28.45,"y":0.60,"ex":2.03,"ey":0.08},{"x":28.48,"y":0.93,"ex":2.04,"ey":0.13},{"x":28.52,"y":0.77,"ex":2.03,"ey":0.11},{"x":28.57,"y":0.53,"ex":2.02,"ey":0.07},{"x":28.61,"y":0.87,"ex":2.03,"ey":0.12},{"x":28.64,"y":0.72,"ex":2.04,"ey":0.10},{"x":28.68,"y":1.08,"ex":2.03,"ey":0.15},{"x":28.72,"y":0.67,"ex":2.02,"ey":0.09},{"x":28.75,"y":0.81,"ex":2.03,"ey":0.11},{"x":28.79,"y":0.58,"ex":2.04,"ey":0.08},{"x":28.82,"y":0.95,"ex":2.03,"ey":0.13},{"x":28.86,"y":0.76,"ex":2.02,"ey":0.11},{"x":28.90,"y":0.63,"ex":2.03,"ey":0.09},{"x":28.93,"y":0.89,"ex":2.04,"ey":0.12},{"x":28.95,"y":0.72,"ex":2.03,"ey":0.10},{"x":28.99,"y":1.01,"ex":2.02,"ey":0.14},
{"x":29.03,"y":0.75,"ex":2.05,"ey":0.10},{"x":29.07,"y":0.90,"ex":2.06,"ey":0.13},{"x":29.12,"y":0.62,"ex":2.05,"ey":0.09},{"x":29.16,"y":0.82,"ex":2.04,"ey":0.11},{"x":29.21,"y":1.07,"ex":2.05,"ey":0.15},{"x":29.25,"y":0.71,"ex":2.06,"ey":0.10},{"x":29.28,"y":0.58,"ex":2.05,"ey":0.08},{"x":29.32,"y":0.95,"ex":2.04,"ey":0.13},{"x":29.36,"y":0.79,"ex":2.05,"ey":0.11},{"x":29.41,"y":0.66,"ex":2.06,"ey":0.09},{"x":29.45,"y":0.88,"ex":2.05,"ey":0.12},{"x":29.48,"y":1.04,"ex":2.04,"ey":0.15},{"x":29.52,"y":0.73,"ex":2.05,"ey":0.10},{"x":29.57,"y":0.56,"ex":2.06,"ey":0.08},{"x":29.61,"y":0.84,"ex":2.05,"ey":0.12},{"x":29.64,"y":0.69,"ex":2.04,"ey":0.10},{"x":29.68,"y":0.98,"ex":2.05,"ey":0.14},{"x":29.72,"y":0.78,"ex":2.06,"ey":0.11},{"x":29.75,"y":0.63,"ex":2.05,"ey":0.09},{"x":29.79,"y":0.91,"ex":2.04,"ey":0.13},{"x":29.82,"y":0.76,"ex":2.05,"ey":0.11},{"x":29.86,"y":0.59,"ex":2.06,"ey":0.08},{"x":29.90,"y":0.86,"ex":2.05,"ey":0.12},{"x":29.93,"y":1.02,"ex":2.04,"ey":0.14},{"x":29.95,"y":0.71,"ex":2.05,"ey":0.10},{"x":29.99,"y":0.81,"ex":2.06,"ey":0.11},
{"x":30.03,"y":0.78,"ex":2.08,"ey":0.11},{"x":30.08,"y":0.93,"ex":2.07,"ey":0.13},{"x":30.13,"y":0.65,"ex":2.08,"ey":0.09},{"x":30.18,"y":0.86,"ex":2.09,"ey":0.12},{"x":30.23,"y":1.09,"ex":2.08,"ey":0.15},{"x":30.27,"y":0.73,"ex":2.07,"ey":0.10},{"x":30.31,"y":0.60,"ex":2.08,"ey":0.08},{"x":30.36,"y":0.97,"ex":2.09,"ey":0.14},{"x":30.41,"y":0.82,"ex":2.08,"ey":0.11},{"x":30.46,"y":0.68,"ex":2.07,"ey":0.10},{"x":30.51,"y":0.91,"ex":2.08,"ey":0.13},{"x":30.56,"y":1.05,"ex":2.09,"ey":0.15},{"x":30.61,"y":0.75,"ex":2.08,"ey":0.10},{"x":30.66,"y":0.59,"ex":2.07,"ey":0.08},{"x":30.71,"y":0.87,"ex":2.08,"ey":0.12},{"x":30.76,"y":0.71,"ex":2.09,"ey":0.10},{"x":30.81,"y":1.00,"ex":2.08,"ey":0.14},{"x":30.84,"y":0.79,"ex":2.07,"ey":0.11},{"x":30.87,"y":0.66,"ex":2.08,"ey":0.09},{"x":30.89,"y":0.94,"ex":2.09,"ey":0.13},{"x":30.91,"y":0.83,"ex":2.08,"ey":0.12},{"x":30.94,"y":0.62,"ex":2.07,"ey":0.09},{"x":30.96,"y":0.89,"ex":2.08,"ey":0.12},{"x":30.98,"y":1.03,"ex":2.09,"ey":0.14},
{"x":31.04,"y":0.80,"ex":2.10,"ey":0.11},{"x":31.09,"y":0.94,"ex":2.11,"ey":0.13},{"x":31.14,"y":0.67,"ex":2.10,"ey":0.09},{"x":31.20,"y":0.88,"ex":2.09,"ey":0.12},{"x":31.26,"y":1.10,"ex":2.10,"ey":0.15},{"x":31.31,"y":0.75,"ex":2.11,"ey":0.10},{"x":31.37,"y":0.62,"ex":2.10,"ey":0.09},{"x":31.43,"y":0.99,"ex":2.09,"ey":0.14},{"x":31.47,"y":0.84,"ex":2.10,"ey":0.12},{"x":31.52,"y":0.70,"ex":2.11,"ey":0.10},{"x":31.58,"y":0.93,"ex":2.10,"ey":0.13},{"x":31.62,"y":1.06,"ex":2.09,"ey":0.15},{"x":31.67,"y":0.77,"ex":2.10,"ey":0.11},{"x":31.71,"y":0.60,"ex":2.11,"ey":0.08},{"x":31.76,"y":0.89,"ex":2.10,"ey":0.12},{"x":31.80,"y":0.73,"ex":2.09,"ey":0.10},{"x":31.85,"y":1.02,"ex":2.10,"ey":0.14},{"x":31.89,"y":0.81,"ex":2.11,"ey":0.11},{"x":31.93,"y":0.68,"ex":2.10,"ey":0.10},{"x":31.95,"y":0.96,"ex":2.09,"ey":0.13},{"x":31.97,"y":0.86,"ex":2.10,"ey":0.12},{"x":31.99,"y":0.75,"ex":2.11,"ey":0.10},
{"x":32.05,"y":0.83,"ex":2.13,"ey":0.12},{"x":32.12,"y":0.97,"ex":2.12,"ey":0.14},{"x":32.18,"y":0.70,"ex":2.13,"ey":0.10},{"x":32.25,"y":0.90,"ex":2.14,"ey":0.13},{"x":32.32,"y":1.10,"ex":2.13,"ey":0.15},{"x":32.38,"y":0.78,"ex":2.12,"ey":0.11},{"x":32.45,"y":0.64,"ex":2.13,"ey":0.09},{"x":32.52,"y":1.00,"ex":2.14,"ey":0.14},{"x":32.58,"y":0.86,"ex":2.13,"ey":0.12},{"x":32.65,"y":0.73,"ex":2.12,"ey":0.10},{"x":32.72,"y":0.95,"ex":2.13,"ey":0.13},{"x":32.78,"y":1.07,"ex":2.14,"ey":0.15},{"x":32.82,"y":0.80,"ex":2.13,"ey":0.11},{"x":32.86,"y":0.67,"ex":2.12,"ey":0.09},{"x":32.89,"y":0.92,"ex":2.13,"ey":0.13},{"x":32.92,"y":0.76,"ex":2.14,"ey":0.11},{"x":32.95,"y":1.02,"ex":2.13,"ey":0.14},{"x":32.98,"y":0.84,"ex":2.12,"ey":0.12},
{"x":33.06,"y":0.85,"ex":2.15,"ey":0.12},{"x":33.15,"y":0.99,"ex":2.16,"ey":0.14},{"x":33.23,"y":0.74,"ex":2.15,"ey":0.10},{"x":33.31,"y":0.93,"ex":2.14,"ey":0.13},{"x":33.40,"y":1.10,"ex":2.15,"ey":0.15},{"x":33.48,"y":0.80,"ex":2.16,"ey":0.11},{"x":33.56,"y":0.69,"ex":2.15,"ey":0.10},{"x":33.64,"y":1.01,"ex":2.14,"ey":0.14},{"x":33.73,"y":0.88,"ex":2.15,"ey":0.12},{"x":33.81,"y":0.76,"ex":2.16,"ey":0.11},{"x":33.89,"y":0.96,"ex":2.15,"ey":0.13},{"x":33.97,"y":1.05,"ex":2.14,"ey":0.15},{"x":33.85,"y":0.82,"ex":2.15,"ey":0.11},{"x":33.69,"y":0.91,"ex":2.16,"ey":0.13},
{"x":34.08,"y":0.87,"ex":2.18,"ey":0.12},{"x":34.19,"y":1.00,"ex":2.17,"ey":0.14},{"x":34.31,"y":0.77,"ex":2.18,"ey":0.11},{"x":34.42,"y":0.94,"ex":2.19,"ey":0.13},{"x":34.53,"y":1.09,"ex":2.18,"ey":0.15},{"x":34.64,"y":0.83,"ex":2.17,"ey":0.12},{"x":34.75,"y":0.72,"ex":2.18,"ey":0.10},{"x":34.86,"y":1.02,"ex":2.19,"ey":0.14},{"x":34.95,"y":0.88,"ex":2.18,"ey":0.12},{"x":34.25,"y":0.98,"ex":2.17,"ey":0.14},{"x":34.58,"y":0.86,"ex":2.18,"ey":0.12},{"x":34.80,"y":0.94,"ex":2.19,"ey":0.13},
{"x":35.10,"y":0.89,"ex":2.20,"ey":0.12},{"x":35.26,"y":1.00,"ex":2.21,"ey":0.14},{"x":35.42,"y":0.84,"ex":2.20,"ey":0.12},{"x":35.58,"y":0.95,"ex":2.19,"ey":0.13},{"x":35.74,"y":0.78,"ex":2.20,"ey":0.11},{"x":35.90,"y":1.01,"ex":2.21,"ey":0.14},{"x":35.34,"y":0.92,"ex":2.20,"ey":0.13},{"x":35.66,"y":0.88,"ex":2.19,"ey":0.12},
{"x":36.13,"y":0.90,"ex":2.23,"ey":0.11},{"x":36.32,"y":0.98,"ex":2.22,"ey":0.12},{"x":36.51,"y":0.86,"ex":2.23,"ey":0.10},{"x":36.70,"y":0.95,"ex":2.24,"ey":0.11},{"x":36.88,"y":1.02,"ex":2.23,"ey":0.12},{"x":36.22,"y":0.82,"ex":2.22,"ey":0.10},
{"x":37.15,"y":0.91,"ex":2.25,"ey":0.11},{"x":37.43,"y":1.03,"ex":2.26,"ey":0.12},{"x":37.70,"y":0.95,"ex":2.25,"ey":0.11},{"x":37.95,"y":0.99,"ex":2.26,"ey":0.12},
{"x":24.08,"y":0.74,"ex":1.93,"ey":0.10},{"x":24.21,"y":0.62,"ex":1.93,"ey":0.09},{"x":24.29,"y":0.80,"ex":1.93,"ey":0.11},{"x":24.38,"y":0.68,"ex":1.93,"ey":0.10},{"x":24.46,"y":0.73,"ex":1.93,"ey":0.10},{"x":24.53,"y":0.60,"ex":1.93,"ey":0.08},{"x":24.61,"y":0.77,"ex":1.93,"ey":0.11},{"x":24.69,"y":0.66,"ex":1.93,"ey":0.09},{"x":24.77,"y":0.82,"ex":1.93,"ey":0.11},{"x":24.83,"y":0.70,"ex":1.93,"ey":0.10},{"x":24.90,"y":0.61,"ex":1.93,"ey":0.09},{"x":24.95,"y":0.75,"ex":1.93,"ey":0.10},
{"x":25.06,"y":0.70,"ex":1.95,"ey":0.10},{"x":25.14,"y":0.83,"ex":1.95,"ey":0.12},{"x":25.20,"y":0.66,"ex":1.95,"ey":0.09},{"x":25.28,"y":0.76,"ex":1.95,"ey":0.11},{"x":25.34,"y":0.58,"ex":1.95,"ey":0.08},{"x":25.40,"y":0.79,"ex":1.95,"ey":0.11},{"x":25.46,"y":0.65,"ex":1.95,"ey":0.09},{"x":25.52,"y":0.72,"ex":1.95,"ey":0.10},{"x":25.58,"y":0.87,"ex":1.95,"ey":0.12},{"x":25.64,"y":0.68,"ex":1.95,"ey":0.10},{"x":25.71,"y":0.79,"ex":1.95,"ey":0.11},{"x":25.77,"y":0.62,"ex":1.95,"ey":0.09},{"x":25.83,"y":0.84,"ex":1.95,"ey":0.12},{"x":25.88,"y":0.73,"ex":1.95,"ey":0.10},{"x":25.91,"y":0.59,"ex":1.95,"ey":0.08},{"x":25.97,"y":0.81,"ex":1.95,"ey":0.11},
{"x":26.04,"y":0.65,"ex":1.98,"ey":0.09},{"x":26.09,"y":0.80,"ex":1.98,"ey":0.11},{"x":26.14,"y":0.70,"ex":1.98,"ey":0.10},{"x":26.19,"y":0.86,"ex":1.98,"ey":0.12},{"x":26.24,"y":0.62,"ex":1.98,"ey":0.09},{"x":26.29,"y":0.76,"ex":1.98,"ey":0.11},{"x":26.34,"y":0.69,"ex":1.98,"ey":0.10},{"x":26.39,"y":0.84,"ex":1.98,"ey":0.12},{"x":26.44,"y":0.60,"ex":1.98,"ey":0.08},{"x":26.49,"y":0.72,"ex":1.98,"ey":0.10},{"x":26.54,"y":0.79,"ex":1.98,"ey":0.11},{"x":26.59,"y":0.64,"ex":1.98,"ey":0.09},{"x":26.64,"y":0.89,"ex":1.98,"ey":0.12},{"x":26.69,"y":0.70,"ex":1.98,"ey":0.10},{"x":26.74,"y":0.81,"ex":1.98,"ey":0.11},{"x":26.79,"y":0.67,"ex":1.98,"ey":0.09},{"x":26.84,"y":0.77,"ex":1.98,"ey":0.11},{"x":26.89,"y":0.59,"ex":1.98,"ey":0.08},{"x":26.93,"y":0.88,"ex":1.98,"ey":0.12},{"x":26.97,"y":0.68,"ex":1.98,"ey":0.10},
{"x":27.05,"y":0.81,"ex":2.00,"ey":0.11},{"x":27.10,"y":0.66,"ex":2.00,"ey":0.09},{"x":27.14,"y":0.75,"ex":2.00,"ey":0.10},{"x":27.19,"y":0.91,"ex":2.00,"ey":0.13},{"x":27.23,"y":0.68,"ex":2.00,"ey":0.10},{"x":27.27,"y":0.58,"ex":2.00,"ey":0.08},{"x":27.30,"y":0.83,"ex":2.00,"ey":0.12},{"x":27.34,"y":0.72,"ex":2.00,"ey":0.10},{"x":27.39,"y":0.63,"ex":2.00,"ey":0.09},{"x":27.43,"y":0.80,"ex":2.00,"ey":0.11},{"x":27.46,"y":0.90,"ex":2.00,"ey":0.13},{"x":27.50,"y":0.67,"ex":2.00,"ey":0.09},{"x":27.54,"y":0.76,"ex":2.00,"ey":0.11},{"x":27.57,"y":0.59,"ex":2.00,"ey":0.08},{"x":27.61,"y":0.86,"ex":2.00,"ey":0.12},{"x":27.64,"y":0.74,"ex":2.00,"ey":0.10},{"x":27.68,"y":0.64,"ex":2.00,"ey":0.09},{"x":27.72,"y":0.81,"ex":2.00,"ey":0.11},{"x":27.75,"y":0.70,"ex":2.00,"ey":0.10},{"x":27.79,"y":0.93,"ex":2.00,"ey":0.13},{"x":27.82,"y":0.61,"ex":2.00,"ey":0.09},{"x":27.86,"y":0.78,"ex":2.00,"ey":0.11},{"x":27.90,"y":0.72,"ex":2.00,"ey":0.10},{"x":27.93,"y":0.84,"ex":2.00,"ey":0.12},{"x":27.97,"y":0.65,"ex":2.00,"ey":0.09},
{"x":28.05,"y":0.70,"ex":2.03,"ey":0.10},{"x":28.09,"y":0.85,"ex":2.03,"ey":0.12},{"x":28.14,"y":0.62,"ex":2.03,"ey":0.09},{"x":28.18,"y":0.78,"ex":2.03,"ey":0.11},{"x":28.23,"y":0.93,"ex":2.03,"ey":0.13},{"x":28.27,"y":0.65,"ex":2.03,"ey":0.09},{"x":28.30,"y":0.75,"ex":2.03,"ey":0.10},{"x":28.34,"y":0.88,"ex":2.03,"ey":0.12},{"x":28.39,"y":0.68,"ex":2.03,"ey":0.10},{"x":28.43,"y":0.79,"ex":2.03,"ey":0.11},{"x":28.46,"y":0.58,"ex":2.03,"ey":0.08},{"x":28.50,"y":0.72,"ex":2.03,"ey":0.10},{"x":28.55,"y":0.95,"ex":2.03,"ey":0.13},{"x":28.59,"y":0.63,"ex":2.03,"ey":0.09},{"x":28.63,"y":0.77,"ex":2.03,"ey":0.11},{"x":28.66,"y":0.84,"ex":2.03,"ey":0.12},{"x":28.70,"y":0.60,"ex":2.03,"ey":0.08},{"x":28.73,"y":0.73,"ex":2.03,"ey":0.10},{"x":28.77,"y":0.91,"ex":2.03,"ey":0.13},{"x":28.81,"y":0.66,"ex":2.03,"ey":0.09},{"x":28.84,"y":0.84,"ex":2.03,"ey":0.12},{"x":28.88,"y":0.61,"ex":2.03,"ey":0.09},{"x":28.91,"y":0.79,"ex":2.03,"ey":0.11},{"x":28.97,"y":0.88,"ex":2.03,"ey":0.12},
{"x":29.05,"y":0.70,"ex":2.05,"ey":0.10},{"x":29.09,"y":0.85,"ex":2.05,"ey":0.12},{"x":29.14,"y":0.66,"ex":2.05,"ey":0.09},{"x":29.19,"y":0.78,"ex":2.05,"ey":0.11},{"x":29.23,"y":0.96,"ex":2.05,"ey":0.13},{"x":29.27,"y":0.73,"ex":2.05,"ey":0.10},{"x":29.30,"y":0.63,"ex":2.05,"ey":0.09},{"x":29.34,"y":0.81,"ex":2.05,"ey":0.11},{"x":29.39,"y":0.90,"ex":2.05,"ey":0.13},{"x":29.43,"y":0.70,"ex":2.05,"ey":0.10},{"x":29.46,"y":0.77,"ex":2.05,"ey":0.11},{"x":29.50,"y":0.61,"ex":2.05,"ey":0.09},{"x":29.55,"y":0.84,"ex":2.05,"ey":0.12},{"x":29.59,"y":0.72,"ex":2.05,"ey":0.10},{"x":29.63,"y":0.93,"ex":2.05,"ey":0.13},{"x":29.66,"y":0.65,"ex":2.05,"ey":0.09},{"x":29.70,"y":0.80,"ex":2.05,"ey":0.11},{"x":29.73,"y":0.87,"ex":2.05,"ey":0.12},{"x":29.77,"y":0.68,"ex":2.05,"ey":0.10},{"x":29.81,"y":0.96,"ex":2.05,"ey":0.13},{"x":29.84,"y":0.72,"ex":2.05,"ey":0.10},{"x":29.88,"y":0.80,"ex":2.05,"ey":0.11},{"x":29.91,"y":0.65,"ex":2.05,"ey":0.09},{"x":29.97,"y":0.88,"ex":2.05,"ey":0.12},
{"x":30.04,"y":0.73,"ex":2.08,"ey":0.10},{"x":30.09,"y":0.88,"ex":2.08,"ey":0.12},{"x":30.14,"y":0.79,"ex":2.08,"ey":0.11},{"x":30.19,"y":0.67,"ex":2.08,"ey":0.09},{"x":30.24,"y":0.92,"ex":2.08,"ey":0.13},{"x":30.29,"y":0.81,"ex":2.08,"ey":0.11},{"x":30.34,"y":0.70,"ex":2.08,"ey":0.10},{"x":30.39,"y":0.86,"ex":2.08,"ey":0.12},{"x":30.44,"y":0.96,"ex":2.08,"ey":0.13},{"x":30.49,"y":0.74,"ex":2.08,"ey":0.10},{"x":30.54,"y":0.65,"ex":2.08,"ey":0.09},{"x":30.59,"y":0.87,"ex":2.08,"ey":0.12},{"x":30.64,"y":0.80,"ex":2.08,"ey":0.11},{"x":30.69,"y":0.92,"ex":2.08,"ey":0.13},{"x":30.74,"y":0.70,"ex":2.08,"ey":0.10},{"x":30.79,"y":0.83,"ex":2.08,"ey":0.12},{"x":30.86,"y":0.73,"ex":2.08,"ey":0.10},{"x":30.93,"y":0.97,"ex":2.08,"ey":0.14},{"x":30.98,"y":0.81,"ex":2.08,"ey":0.11},
{"x":31.06,"y":0.75,"ex":2.10,"ey":0.10},{"x":31.12,"y":0.90,"ex":2.10,"ey":0.13},{"x":31.18,"y":0.70,"ex":2.10,"ey":0.10},{"x":31.24,"y":0.85,"ex":2.10,"ey":0.12},{"x":31.29,"y":0.96,"ex":2.10,"ey":0.13},{"x":31.35,"y":0.78,"ex":2.10,"ey":0.11},{"x":31.41,"y":0.66,"ex":2.10,"ey":0.09},{"x":31.46,"y":0.92,"ex":2.10,"ey":0.13},{"x":31.53,"y":0.80,"ex":2.10,"ey":0.11},{"x":31.59,"y":0.72,"ex":2.10,"ey":0.10},{"x":31.65,"y":0.95,"ex":2.10,"ey":0.13},{"x":31.70,"y":0.83,"ex":2.10,"ey":0.12},{"x":31.77,"y":0.69,"ex":2.10,"ey":0.10},{"x":31.83,"y":0.91,"ex":2.10,"ey":0.13},{"x":31.88,"y":0.79,"ex":2.10,"ey":0.11},{"x":31.97,"y":0.70,"ex":2.10,"ey":0.10},
{"x":32.08,"y":0.78,"ex":2.13,"ey":0.11},{"x":32.16,"y":0.92,"ex":2.13,"ey":0.13},{"x":32.22,"y":0.74,"ex":2.13,"ey":0.10},{"x":32.33,"y":0.86,"ex":2.13,"ey":0.12},{"x":32.42,"y":0.96,"ex":2.13,"ey":0.13},{"x":32.49,"y":0.76,"ex":2.13,"ey":0.11},{"x":32.56,"y":0.91,"ex":2.13,"ey":0.13},{"x":32.63,"y":0.79,"ex":2.13,"ey":0.11},{"x":32.71,"y":0.85,"ex":2.13,"ey":0.12},{"x":32.79,"y":0.97,"ex":2.13,"ey":0.14},{"x":32.85,"y":0.71,"ex":2.13,"ey":0.10},{"x":32.94,"y":0.82,"ex":2.13,"ey":0.11},
{"x":33.10,"y":0.81,"ex":2.15,"ey":0.11},{"x":33.19,"y":0.96,"ex":2.15,"ey":0.13},{"x":33.35,"y":0.85,"ex":2.15,"ey":0.12},{"x":33.44,"y":0.76,"ex":2.15,"ey":0.11},{"x":33.53,"y":0.94,"ex":2.15,"ey":0.13},{"x":33.66,"y":0.80,"ex":2.15,"ey":0.11},{"x":33.77,"y":0.99,"ex":2.15,"ey":0.14},{"x":33.90,"y":0.87,"ex":2.15,"ey":0.12},
{"x":19.82,"y":0.956,"ex":1.82,"ey":0.176},{"x":20.45,"y":0.886,"ex":1.84,"ey":0.165},{"x":20.38,"y":0.629,"ex":1.84,"ey":0.127},{"x":20.94,"y":0.759,"ex":1.85,"ey":0.13},{"x":21.47,"y":0.72,"ex":1.86,"ey":0.12},{"x":21.5,"y":0.709,"ex":1.86,"ey":0.12},{"x":21.55,"y":0.61,"ex":1.86,"ey":0.11},{"x":21.72,"y":0.315,"ex":1.9,"ey":0.083},{"x":21.93,"y":0.77,"ex":1.87,"ey":0.13},{"x":21.93,"y":0.64,"ex":1.87,"ey":0.11},{"x":21.9,"y":0.576,"ex":1.87,"ey":0.1},{"x":21.9,"y":0.53,"ex":1.87,"ey":0.09},{"x":22.18,"y":0.478,"ex":1.87,"ey":0.085},{"x":22.4,"y":0.78,"ex":1.88,"ey":0.12},{"x":22.64,"y":0.852,"ex":1.88,"ey":0.13},{"x":22.66,"y":0.66,"ex":1.88,"ey":0.1},{"x":22.64,"y":0.63,"ex":1.88,"ey":0.1},{"x":22.64,"y":0.568,"ex":1.88,"ey":0.09},{"x":22.66,"y":0.527,"ex":1.88,"ey":0.09},{"x":22.54,"y":0.489,"ex":1.88,"ey":0.085},
{"x":23.03,"y":0.896,"ex":1.9,"ey":0.13},{"x":23.1,"y":0.478,"ex":1.9,"ey":0.08},{"x":23.32,"y":0.43,"ex":1.9,"ey":0.08},{"x":23.78,"y":0.855,"ex":1.91,"ey":0.12},{"x":23.76,"y":0.80,"ex":1.91,"ey":0.11},{"x":24.2,"y":0.429,"ex":1.92,"ey":0.075},{"x":24.25,"y":0.48,"ex":1.92,"ey":0.08},{"x":24.4,"y":1.029,"ex":1.93,"ey":0.15},{"x":24.3,"y":0.904,"ex":1.93,"ey":0.13},{"x":24.56,"y":1.309,"ex":1.93,"ey":0.2},{"x":24.92,"y":1.161,"ex":1.94,"ey":0.18},{"x":24.95,"y":0.995,"ex":1.94,"ey":0.15},{"x":24.73,"y":0.475,"ex":1.93,"ey":0.08},{"x":25.12,"y":0.496,"ex":1.94,"ey":0.08},{"x":25.9,"y":0.958,"ex":1.96,"ey":0.14},{"x":26.2,"y":0.938,"ex":1.97,"ey":0.13},{"x":26.5,"y":0.497,"ex":1.98,"ey":0.075},{"x":27.1,"y":1.162,"ex":2.0,"ey":0.16},{"x":27.22,"y":1.042,"ex":2.0,"ey":0.14},{"x":27.6,"y":0.423,"ex":2.0,"ey":0.075},{"x":27.32,"y":0.522,"ex":2.0,"ey":0.08},
{"x":28.4,"y":1.145,"ex":2.03,"ey":0.15},{"x":28.83,"y":1.216,"ex":2.04,"ey":0.17},{"x":28.95,"y":1.203,"ex":2.04,"ey":0.17},{"x":29.2,"y":1.16,"ex":2.05,"ey":0.16},{"x":28.85,"y":1.07,"ex":2.04,"ey":0.14},{"x":29.44,"y":1.068,"ex":2.05,"ey":0.14},{"x":29.03,"y":0.499,"ex":2.04,"ey":0.075},{"x":29.73,"y":1.081,"ex":2.06,"ey":0.14},{"x":30.3,"y":1.086,"ex":2.07,"ey":0.14},{"x":30.4,"y":1.046,"ex":2.08,"ey":0.13},{"x":31.4,"y":1.359,"ex":2.1,"ey":0.18},{"x":31.14,"y":1.113,"ex":2.1,"ey":0.14},{"x":30.78,"y":0.556,"ex":2.08,"ey":0.08},{"x":30.95,"y":0.562,"ex":2.09,"ey":0.08},{"x":32.0,"y":1.148,"ex":2.12,"ey":0.14},{"x":32.26,"y":1.192,"ex":2.13,"ey":0.15},{"x":32.4,"y":0.594,"ex":2.13,"ey":0.09},{"x":32.5,"y":0.70,"ex":2.13,"ey":0.09},{"x":32.45,"y":0.675,"ex":2.13,"ey":0.09},{"x":32.96,"y":1.239,"ex":2.15,"ey":0.15},{"x":33.06,"y":1.117,"ex":2.15,"ey":0.14},{"x":32.7,"y":1.106,"ex":2.14,"ey":0.14},
{"x":33.42,"y":1.224,"ex":2.16,"ey":0.15},{"x":33.57,"y":1.078,"ex":2.16,"ey":0.13},{"x":33.28,"y":0.657,"ex":2.15,"ey":0.09},{"x":33.79,"y":0.672,"ex":2.17,"ey":0.093},{"x":33.6,"y":0.74,"ex":2.17,"ey":0.1},{"x":34.13,"y":1.198,"ex":2.18,"ey":0.14},{"x":34.47,"y":1.22,"ex":2.19,"ey":0.15},{"x":34.4,"y":1.174,"ex":2.19,"ey":0.14},{"x":34.25,"y":1.137,"ex":2.18,"ey":0.14},{"x":34.6,"y":1.304,"ex":2.19,"ey":0.16},{"x":34.85,"y":1.146,"ex":2.2,"ey":0.14},{"x":35.0,"y":1.104,"ex":2.2,"ey":0.13},{"x":35.5,"y":1.091,"ex":2.21,"ey":0.13},{"x":34.35,"y":1.028,"ex":2.19,"ey":0.12},{"x":34.7,"y":0.99,"ex":2.19,"ey":0.12},{"x":34.85,"y":0.80,"ex":2.2,"ey":0.1},{"x":34.5,"y":0.746,"ex":2.19,"ey":0.1},{"x":35.3,"y":0.724,"ex":2.21,"ey":0.097},
{"x":36.24,"y":1.106,"ex":2.23,"ey":0.13},{"x":35.9,"y":1.037,"ex":2.22,"ey":0.12},{"x":36.5,"y":0.782,"ex":2.24,"ey":0.09},{"x":36.8,"y":1.021,"ex":2.24,"ey":0.12},{"x":37.4,"y":1.167,"ex":2.26,"ey":0.13},{"x":38.07,"y":1.15,"ex":2.27,"ey":0.13},{"x":37.4,"y":0.80,"ex":2.26,"ey":0.09},{"x":37.48,"y":0.901,"ex":2.26,"ey":0.1},{"x":36.9,"y":0.833,"ex":2.25,"ey":0.1},{"x":37.72,"y":1.023,"ex":2.27,"ey":0.12},{"x":38.2,"y":0.904,"ex":2.28,"ey":0.1},{"x":38.3,"y":0.999,"ex":2.28,"ey":0.11},{"x":38.18,"y":0.943,"ex":2.28,"ey":0.11},{"x":38.79,"y":1.057,"ex":2.29,"ey":0.12},{"x":38.9,"y":1.398,"ex":2.3,"ey":0.165},{"x":39.08,"y":0.964,"ex":2.3,"ey":0.11},{"x":39.2,"y":0.941,"ex":2.3,"ey":0.11},{"x":39.42,"y":1.094,"ex":2.31,"ey":0.12},{"x":39.64,"y":0.891,"ex":2.31,"ey":0.1},{"x":39.86,"y":0.917,"ex":2.32,"ey":0.1},
{"x":40.71,"y":1.011,"ex":2.34,"ey":0.11},{"x":40.9,"y":1.086,"ex":2.34,"ey":0.12},{"x":41.22,"y":0.943,"ex":2.35,"ey":0.1},{"x":41.54,"y":1.01,"ex":2.35,"ey":0.11},{"x":42.24,"y":0.818,"ex":2.36,"ey":0.09},{"x":42.73,"y":1.133,"ex":2.37,"ey":0.124},{"x":42.92,"y":1.042,"ex":2.37,"ey":0.11},{"x":37.16,"y":1.016,"ex":2.25,"ey":0.12},{"x":37.0,"y":0.98,"ex":2.25,"ey":0.11},{"x":37.3,"y":0.98,"ex":2.26,"ey":0.11},{"x":37.52,"y":0.98,"ex":2.26,"ey":0.11},{"x":36.05,"y":0.912,"ex":2.23,"ey":0.1},{"x":36.27,"y":0.925,"ex":2.23,"ey":0.1},{"x":36.63,"y":0.88,"ex":2.24,"ey":0.1},{"x":36.6,"y":0.90,"ex":2.24,"ey":0.1},{"x":35.76,"y":0.96,"ex":2.22,"ey":0.11},{"x":36.87,"y":0.94,"ex":2.25,"ey":0.11},{"x":35.9,"y":1.03,"ex":2.22,"ey":0.12},{"x":36.0,"y":1.02,"ex":2.22,"ey":0.12},{"x":36.4,"y":1.0,"ex":2.23,"ey":0.12},{"x":35.6,"y":1.07,"ex":2.21,"ey":0.13}
],
"bands": [{"x":23},{"x":27},{"x":30},{"x":33},{"x":39}],
"ref": [{"y":0.801}],
"labels": [{"x":24.92,"y":0.251,"t":"A"},{"x":28.75,"y":0.251,"t":"B"},{"x":31.21,"y":0.259,"t":"C"},{"x":35.35,"y":0.263,"t":"D"}]
},
"resolve": {"axis": {"x": "independent", "y": "independent"}},
"layer": [
{"data": {"name": "pts"},
 "mark": {"type": "errorbar", "ticks": true, "color": "#ff0000", "thickness": 2.4, "size": 34},
 "encoding": {
  "x": {"field": "x", "type": "quantitative", "scale": {"domain": [17, 48], "nice": false, "zero": false}, "axis": null},
  "xError": {"field": "ex"},
  "y": {"field": "y", "type": "quantitative", "scale": {"domain": [0.1, 1.7], "nice": false, "zero": false}, "axis": null}
 }},
{"data": {"name": "pts"},
 "mark": {"type": "errorbar", "ticks": true, "color": "#ff0000", "thickness": 2.4, "size": 34},
 "encoding": {
  "x": {"field": "x", "type": "quantitative", "scale": {"domain": [17, 48], "nice": false, "zero": false}, "axis": null},
  "y": {"field": "y", "type": "quantitative", "scale": {"domain": [0.1, 1.7], "nice": false, "zero": false}, "axis": null},
  "yError": {"field": "ey"}
 }},
{"data": {"name": "pts"},
 "mark": {"type": "circle", "size": 780, "color": "#ff0000", "opacity": 1},
 "encoding": {
  "x": {"field": "x", "type": "quantitative", "scale": {"domain": [17, 48], "nice": false, "zero": false},
   "axis": {"orient": "bottom", "title": "Intensity (3.0-15.0 keV) (counts/s)", "values": [18,19,20,21,22,23,24,25,26,27,28,29,30,31,32,33,34,35,36,37,38,39,40,41,42,43,44,45,46,47,48],
    "format": "d", "labelExpr": "datum.value % 2 == 0 ? datum.label : ''",
    "tickSize": {"condition": {"test": "datum.value % 2 == 0", "value": -36}, "value": -17},
    "labelPadding": 75, "titleX": 1127, "titleY": 247, "titleBaseline": "alphabetic", "titleAlign": "center"}},
  "y": {"field": "y", "type": "quantitative", "scale": {"domain": [0.1, 1.7], "nice": false, "zero": false},
   "axis": {"orient": "left", "title": "Hardness ratio (4.5-15.0 keV/3.0-4.5 keV)", "values": [0.2,0.3,0.4,0.5,0.6,0.7,0.8,0.9,1.0,1.1,1.2,1.3,1.4,1.5,1.6],
    "format": ".1f", "labelExpr": "round(datum.value*10) % 2 == 0 ? datum.label : ''",
    "tickSize": {"condition": {"test": "round(datum.value*10) % 2 == 0", "value": -36}, "value": -17},
    "labelPadding": 83, "titleX": -228, "titleY": 831, "titleAngle": -90, "titleBaseline": "alphabetic", "titleAlign": "center"}}
 }},
{"data": {"name": "ref"},
 "mark": {"type": "rule", "color": "#000000", "strokeWidth": 2.2},
 "encoding": {
  "y": {"field": "y", "type": "quantitative", "scale": {"domain": [0.1, 1.7], "nice": false, "zero": false}, "axis": null}
 }},
{"data": {"name": "bands"},
 "mark": {"type": "rule", "color": "#0a0a9e", "strokeWidth": 7, "clip": false},
 "encoding": {
  "x": {"field": "x", "type": "quantitative", "scale": {"domain": [17, 48], "nice": false, "zero": false}, "axis": null},
  "y": {"datum": 1.708, "type": "quantitative", "scale": {"domain": [0.1, 1.7], "nice": false, "zero": false}, "axis": null},
  "y2": {"datum": 0.092}
 }},
{"data": {"name": "labels"},
 "mark": {"type": "text", "font": "Liberation Sans", "fontSize": 84, "align": "center", "baseline": "alphabetic", "color": "#000000"},
 "encoding": {
  "x": {"field": "x", "type": "quantitative", "scale": {"domain": [17, 48], "nice": false, "zero": false},
   "axis": {"orient": "top", "title": null, "labels": false, "values": [18,19,20,21,22,23,24,25,26,27,28,29,30,31,32,33,34,35,36,37,38,39,40,41,42,43,44,45,46,47,48],
    "tickSize": {"condition": {"test": "datum.value % 2 == 0", "value": -36}, "value": -17}}},
  "y": {"field": "y", "type": "quantitative", "scale": {"domain": [0.1, 1.7], "nice": false, "zero": false},
   "axis": {"orient": "right", "title": null, "labels": false, "values": [0.2,0.3,0.4,0.5,0.6,0.7,0.8,0.9,1.0,1.1,1.2,1.3,1.4,1.5,1.6],
    "tickSize": {"condition": {"test": "round(datum.value*10) % 2 == 0", "value": -36}, "value": -17}}},
  "text": {"field": "t", "type": "nominal"}
 }}
]
}
